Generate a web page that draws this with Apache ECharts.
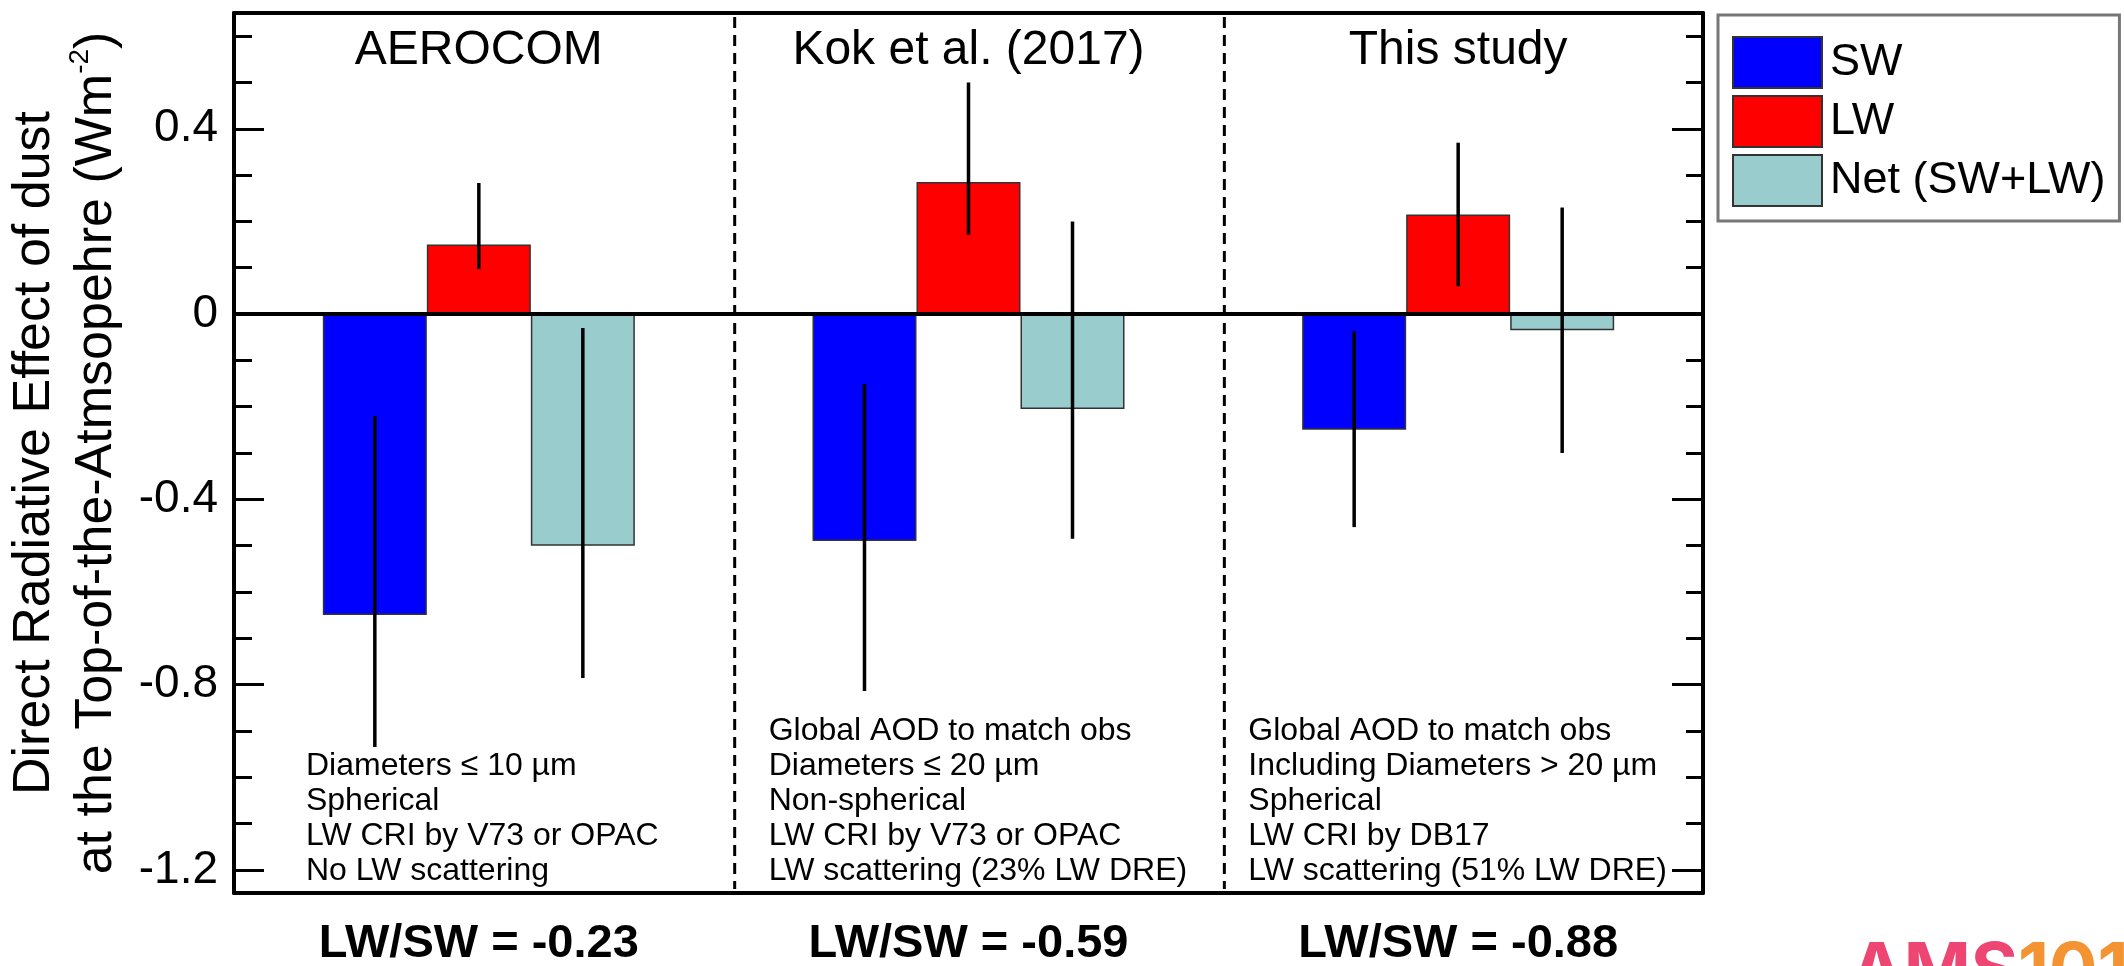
<!DOCTYPE html>
<html><head><meta charset="utf-8">
<script src="https://cdn.jsdelivr.net/npm/echarts@6/dist/echarts.min.js"></script>
<style>html,body{margin:0;padding:0;background:#fff}#c{width:2124px;height:966px}</style>
</head><body><div id="c"></div>
<script>
// ---------------- data ----------------
const groupNames = ['AEROCOM', 'Kok et al. (2017)', 'This study'];
const ratioLabels = ['LW/SW = -0.23', 'LW/SW = -0.59', 'LW/SW = -0.88'];
const seriesNames = ['SW', 'LW', 'Net (SW+LW)'];
const swValues = [-0.65, -0.49, -0.25];
const lwValues = [0.15, 0.285, 0.215];
const netValues = [-0.50, -0.205, -0.035];
const swErr = [[-0.935, -0.22], [-0.814, -0.151], [-0.46, -0.037]];
const lwErr = [[0.097, 0.283], [0.171, 0.50], [0.06, 0.37]];
const netErr = [[-0.786, -0.03], [-0.485, 0.20], [-0.30, 0.23]];
const majorTicks = [-1.2, -0.8, -0.4, 0, 0.4];
const minorTicks = [-1.2, -1.1, -1.0, -0.9, -0.8, -0.7, -0.6, -0.5, -0.4, -0.3, -0.2, -0.1, 0, 0.1, 0.2, 0.3, 0.4, 0.5, 0.6];
const notes = [
  ['Diameters \u2264 10 \u00b5m', 'Spherical', 'LW CRI by V73 or OPAC', 'No LW scattering'],
  ['Global AOD to match obs', 'Diameters \u2264 20 \u00b5m', 'Non-spherical', 'LW CRI by V73 or OPAC', 'LW scattering (23% LW DRE)'],
  ['Global AOD to match obs', 'Including Diameters > 20 \u00b5m', 'Spherical', 'LW CRI by DB17', 'LW scattering (51% LW DRE)']
];

// ---------------- layout / style ----------------
const FONT = "'Liberation Sans', Arial, sans-serif";
const BAR_FRAC = 0.2124;
const NOTE_INSET = [0.147, 0.092, 0.0715];
const SEP_SHIFT = 0.0225;
const colors = ['#0000FF', '#FF0000', '#99CCCC'];
const Y_MIN = -1.25, Y_MAX = 0.65;

const chart = echarts.init(document.getElementById('c'), null, {renderer: 'canvas'});

function barSeries(name, vals, color, extra) {
  return Object.assign({
    type: 'bar', name: name, data: vals, xAxisIndex: 0, yAxisIndex: 0,
    barWidth: (BAR_FRAC * 100) + '%', barGap: '0%',
    itemStyle: {color: color, borderColor: '#333', borderWidth: 1.5},
    emphasis: {disabled: true}, silent: true, z: 2
  }, extra || {});
}

function errSeries(errs, k) {
  return {
    type: 'custom', name: 'err' + k, xAxisIndex: 0, yAxisIndex: 0, z: 6, silent: true,
    data: errs.map((e, i) => [i, e[0], e[1]]),
    encode: {x: 0, y: [1, 2]},
    renderItem(params, api) {
      const band = api.size([1, 0])[0];
      const a = api.coord([api.value(0), api.value(1)]);
      const b = api.coord([api.value(0), api.value(2)]);
      const x = a[0] + (k - 1) * band * BAR_FRAC;
      return {type: 'line', shape: {x1: x, y1: a[1], x2: x, y2: b[1]},
        style: {stroke: '#000', lineWidth: 3.5}};
    }
  };
}

const axisLineStyle = {show: true, onZero: false, lineStyle: {color: '#000', width: 4}};

const option = {
  backgroundColor: '#fff',
  animation: false,
  grid: {left: 234, right: 421, top: 13, bottom: 73, containLabel: false, outerBoundsMode: 'none'},
  legend: {
    orient: 'vertical', left: 1718, top: 15, padding: [21, 14, 14, 14],
    itemWidth: 89, itemHeight: 51, itemGap: 6, icon: 'rect',
    borderColor: '#777', borderWidth: 3, selectedMode: false,
    textStyle: {fontSize: 45, color: '#000', fontFamily: FONT, padding: [0, 0, 0, 3]},
    data: seriesNames
  },
  xAxis: [
    {type: 'category', position: 'bottom', data: ratioLabels,
      axisLine: axisLineStyle,
      axisTick: {show: false},
      axisLabel: {fontSize: 47, fontWeight: 'bold', color: '#000', fontFamily: FONT, margin: 28},
      splitLine: {show: false}},
    {type: 'category', position: 'top', data: groupNames,
      axisLine: axisLineStyle,
      axisTick: {show: false},
      axisLabel: {inside: true, fontSize: 48, color: '#000', fontFamily: FONT, margin: 14},
      splitLine: {show: false}}
  ],
  yAxis: [
    {type: 'value', position: 'left', min: Y_MIN, max: Y_MAX,
      name: 'Direct Radiative Effect of dust\nat the Top-of-the-Atmsopehre (Wm{sup|-2})',
      nameLocation: 'middle', nameGap: 104, nameRotate: 90,
      nameTextStyle: {fontSize: 52, lineHeight: 62, color: '#000', fontFamily: FONT,
        rich: {sup: {fontSize: 28, lineHeight: 28, verticalAlign: 'top', color: '#000', fontFamily: FONT}}},
      axisLine: axisLineStyle,
      axisTick: {show: true, inside: true, length: 30, customValues: majorTicks, lineStyle: {color: '#000', width: 3}},
      axisLabel: {customValues: majorTicks, fontSize: 46, color: '#000', fontFamily: FONT, margin: 16,
        formatter: v => String(Math.round(v * 10) / 10)},
      splitLine: {show: false}},
    {type: 'value', position: 'left', min: Y_MIN, max: Y_MAX,
      axisLine: {show: false},
      axisTick: {show: true, inside: true, length: 18, customValues: minorTicks, lineStyle: {color: '#000', width: 3}},
      axisLabel: {show: false}, splitLine: {show: false}},
    {type: 'value', position: 'right', min: Y_MIN, max: Y_MAX,
      axisLine: axisLineStyle,
      axisTick: {show: true, inside: true, length: 31, customValues: majorTicks, lineStyle: {color: '#000', width: 3}},
      axisLabel: {show: false}, splitLine: {show: false}},
    {type: 'value', position: 'right', min: Y_MIN, max: Y_MAX,
      axisLine: {show: false},
      axisTick: {show: true, inside: true, length: 17, customValues: minorTicks, lineStyle: {color: '#000', width: 3}},
      axisLabel: {show: false}, splitLine: {show: false}}
  ],
  series: [
    barSeries(seriesNames[0], swValues, colors[0], {
      markLine: {silent: true, symbol: ['none', 'none'], label: {show: false},
        lineStyle: {color: '#000', width: 4, type: 'solid'}, emphasis: {disabled: true},
        data: [{yAxis: 0}]}
    }),
    barSeries(seriesNames[1], lwValues, colors[1]),
    barSeries(seriesNames[2], netValues, colors[2]),
    errSeries(swErr, 0),
    errSeries(lwErr, 1),
    errSeries(netErr, 2),
    {
      type: 'custom', name: 'separators', silent: true, z: 4, xAxisIndex: 0, yAxisIndex: 0,
      data: [[0, 0], [1, 0]],
      renderItem(params, api) {
        const band = api.size([1, 0])[0];
        const x = api.coord([api.value(0), 0])[0] + band / 2 + band * SEP_SHIFT;
        const cs = params.coordSys;
        return {type: 'line', shape: {x1: x, y1: cs.y + 4, x2: x, y2: cs.y + cs.height - 4},
          style: {stroke: '#000', lineWidth: 3, lineDash: [11, 7]}};
      }
    },
    {
      type: 'custom', name: 'notes', silent: true, z: 5, xAxisIndex: 0, yAxisIndex: 0,
      data: [[0, 0], [1, 0], [2, 0]],
      renderItem(params, api) {
        const i = api.value(0);
        const band = api.size([1, 0])[0];
        const cx = api.coord([i, 0])[0];
        const cs = params.coordSys;
        return {type: 'text', style: {
          text: notes[i].join('\n'), x: cx - band / 2 + band * NOTE_INSET[i], y: cs.y + cs.height - 4,
          fill: '#000', fontSize: 32, fontFamily: FONT, align: 'left', verticalAlign: 'bottom', lineHeight: 35}};
      }
    }
  ],
  graphic: [
    {type: 'text', left: 1850, top: 936, silent: true, z: 10,
      style: {text: '{a|AMS}{b|101}',
        rich: {a: {fill: '#EE4673', fontSize: 72, fontWeight: 'bold', fontFamily: 'Inter, sans-serif', lineHeight: 72},
               b: {fill: '#F39331', fontSize: 72, fontWeight: 'bold', fontFamily: 'Inter, sans-serif', lineHeight: 72}}}}
  ]
};
chart.setOption(option);
</script>
</body></html>
